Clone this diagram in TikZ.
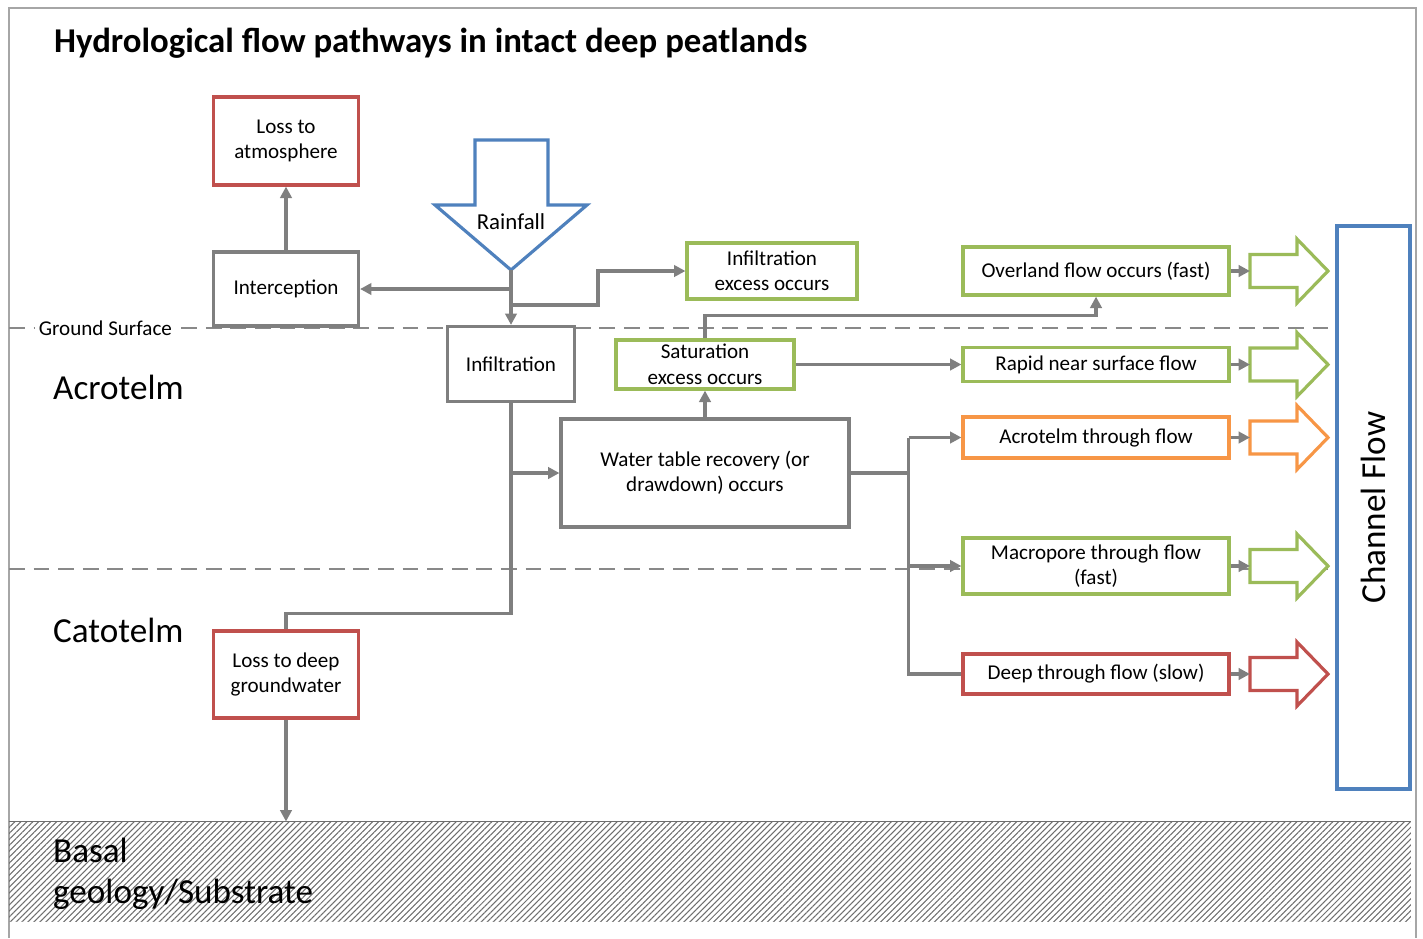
\documentclass[tikz,border=0pt]{standalone}
\usepackage{fontspec}
\setmainfont{Carlito}
\usetikzlibrary{arrows.meta, patterns.meta}
\definecolor{linegray}{RGB}{127,127,127}
\definecolor{dashgray}{RGB}{137,137,137}
\definecolor{framegray}{RGB}{166,166,166}
\definecolor{hatchgray}{RGB}{110,110,110}
\definecolor{flowred}{RGB}{192,80,77}
\definecolor{flowgreen}{RGB}{155,187,89}
\definecolor{floworange}{RGB}{247,150,70}
\definecolor{flowblue}{RGB}{79,129,189}
\begin{document}
\begin{tikzpicture}[x = 0.02cm, y = -0.02cm,
   box/.style = {draw = linegray, line width = 1.8pt, fill = white, align = center, inner sep = 1pt, font = \fontsize{12}{14.5}\selectfont},
   flow/.style = {draw = linegray, line width = 1.8pt, -{Triangle[length = 6.5pt, width = 6.5pt]}},
   link/.style = {draw = linegray, line width = 1.8pt},
   layer/.style = {anchor = west, font = \fontsize{20}{23.5}\selectfont}]
\useasboundingbox (0,0) rectangle (1423,938);
\draw[framegray, line width = 1pt] (9,938) -- (9,8) -- (1416,8) -- (1416,938);

\node[anchor = west, font = \fontsize{19.8}{23}\selectfont\bfseries] (title) at (48,43) {Hydrological flow pathways in intact deep peatlands};

\draw[dashgray, line width = 1.2pt, dash pattern = on 9pt off 5pt] (9,328) -- (1330,328);
\draw[dashgray, line width = 1.2pt, dash pattern = on 9pt off 5pt] (9,569) -- (1330,569);
\node[anchor = west, fill = white, inner sep = 2pt, font = \fontsize{12}{14}\selectfont] (ground) at (35,328) {Ground Surface};

\node[layer] (acro) at (47,387) {Acrotelm};
\node[layer] (cato) at (47,630) {Catotelm};

\node[pattern = {Lines[angle = 45, distance = 2.4pt, line width = 0.6pt]}, pattern color = hatchgray, inner sep = 0pt, minimum width = 28.04cm, minimum height = 1.98cm] (basal) at (710,871.5) {};
\draw[hatchgray, line width = 1pt] (basal.north west) -- (basal.north east);
\node[layer, anchor = north west, align = left] (basaltxt) at (47,832) {Basal\\geology/Substrate};

\draw[flowblue, line width = 1.8pt, fill = white] (475,140) -- (548,140) -- (548,205) -- (587,205) -- (511,270) coordinate (raintip) -- (435,205) -- (475,205) -- cycle;
\node[font = \fontsize{13}{15}\selectfont] (rain) at (511,222) {Rainfall};

\node[box, draw = flowred, minimum width = 2.9cm, minimum height = 1.76cm] (lossatm) at (286,141) {Loss to\\atmosphere};
\node[box, minimum width = 2.9cm, minimum height = 1.48cm] (icpt) at (286,289) {Interception};
\node[box, draw = flowgreen, minimum width = 3.4cm, minimum height = 1.12cm] (infexc) at (772,271) {Infiltration\\excess occurs};
\node[box, minimum width = 2.54cm, minimum height = 1.5cm] (infil) at (511,364) {Infiltration};
\node[box, draw = flowgreen, minimum width = 3.56cm, minimum height = 0.98cm] (satexc) at (705,364.5) {Saturation\\excess occurs};
\node[box, minimum width = 5.76cm, minimum height = 2.16cm] (wtr) at (705,473) {Water table recovery (or\\drawdown) occurs};
\node[box, draw = flowred, minimum width = 2.9cm, minimum height = 1.74cm] (lossdeep) at (286,674.5) {Loss to deep\\groundwater};

\node[box, draw = flowgreen, minimum width = 5.32cm, minimum height = 0.96cm] (overland) at (1096,271) {Overland flow occurs (fast)};
\node[box, draw = flowgreen, minimum width = 5.32cm, minimum height = 0.68cm] (rapid) at (1096,364.5) {Rapid near surface flow};
\node[box, draw = floworange, minimum width = 5.32cm, minimum height = 0.82cm] (acrot) at (1096,437.5) {Acrotelm through flow};
\node[box, draw = flowgreen, minimum width = 5.32cm, minimum height = 1.12cm] (macro) at (1096,566) {Macropore through flow\\(fast)};
\node[box, draw = flowred, minimum width = 5.32cm, minimum height = 0.8cm] (deep) at (1096,674) {Deep through flow (slow)};

\node[box, draw = flowblue, line width = 2.4pt, rotate = 90, minimum width = 11.26cm, minimum height = 1.46cm, font = \fontsize{20}{24}\selectfont] (channel) at (1373.5,507.5) {Channel Flow};

\coordinate (outx) at (1250,0);
\foreach \n/\c in {overland/flowgreen, rapid/flowgreen, acrot/floworange, macro/flowgreen, deep/flowred}{
   \coordinate (\n out) at (\n.east -| outx);
   \draw[\c, line width = 1.8pt, fill = white] (\n out) -- ++(0,-16.5) -- ++(47,0) -- ++(0,-15.5) -- ++(31,32) -- ++(-31,32) -- ++(0,-15.5) -- ++(-47,0) -- cycle;
   \draw[flow] (\n.east) -- (\n out);
   }

\draw[flow] (icpt.north) -- (lossatm.south);
\draw[flow] (raintip) -- (infil.north);
\draw[flow] (raintip |- icpt.east) -- (icpt.east);
\coordinate (fork) at (511,305);
\draw[flow] (fork) -- ++(87,0) |- (infexc.west);
\draw[link] (infil.south) -- ++(0,210) -| (lossdeep.north);
\draw[flow] (infil.south |- wtr.west) -- (wtr.west);
\draw[flow] (wtr.north) -- (satexc.south);
\draw[flow] (satexc.north) -- ++(0,-23) -| (overland.south);
\draw[flow] (satexc.east) -- (rapid.west);
\draw[link] (wtr.east) -- ++(58,0) coordinate (split);
\draw[link] (split |- acrot.west) -- (split |- deep.west) -- (deep.west);
\draw[flow] (split |- acrot.west) -- (acrot.west);
\draw[flow] (split |- macro.west) -- (macro.west);
\draw[flow] (lossdeep.south) -- (lossdeep.south |- basal.north);
\end{tikzpicture}
\end{document}
